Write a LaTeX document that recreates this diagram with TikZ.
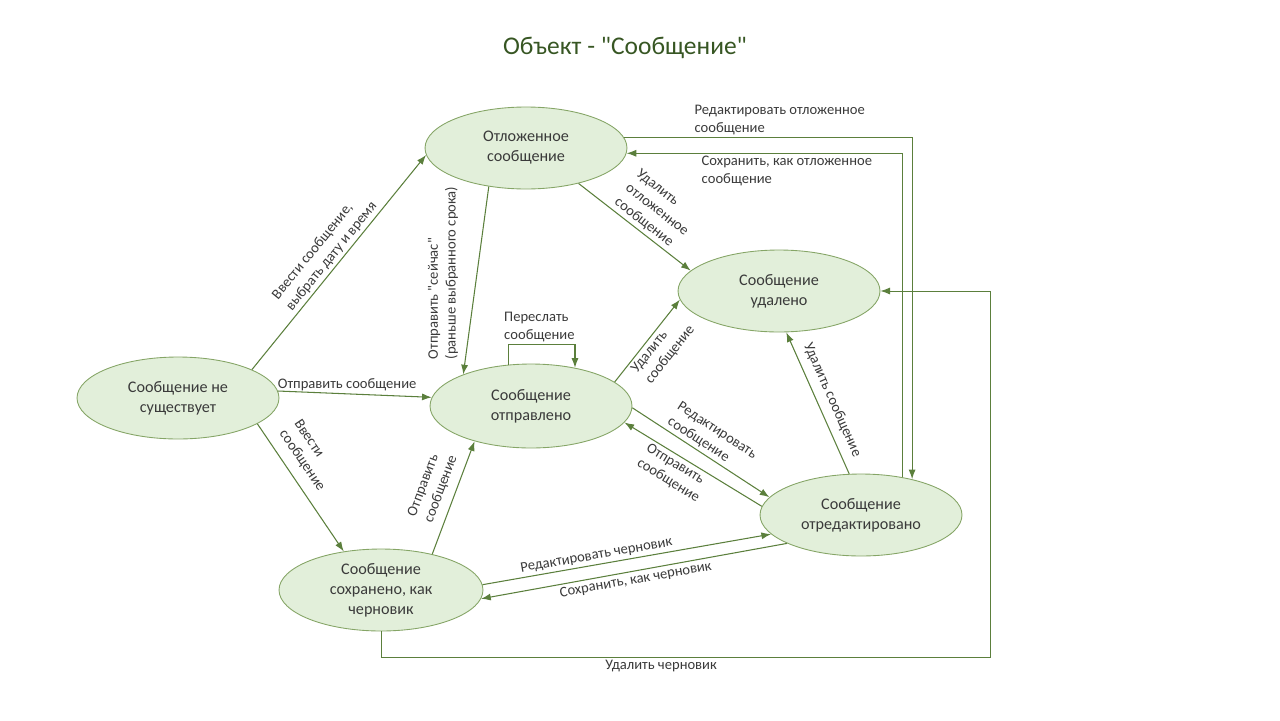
\documentclass[tikz,border=0pt]{standalone}
\usepackage{fontspec}
\setmainfont{Carlito}[Ligatures=TeXOff]
\usepackage{xcolor}
\usepackage{tikz}
\usetikzlibrary{arrows.meta}
\usetikzlibrary{shapes.geometric}
\usetikzlibrary{calc}

\definecolor{ovalfill}{HTML}{E2EFDA}
\definecolor{ovalline}{HTML}{85A566}
\definecolor{arrowgreen}{HTML}{5B7F3C}
\definecolor{textgray}{HTML}{3A3A3A}
\definecolor{titlegreen}{HTML}{375623}

\begin{document}
\begin{tikzpicture}[x=0.02cm,y=-0.02cm,>={Latex[length=5.5pt,width=4pt]}]
			\tikzstyle{state}=[ellipse,draw=ovalline,fill=ovalfill,line width=0.5pt,minimum width=4.04cm,minimum height=1.64cm,inner sep=0pt,align=center,text=textgray,font=\fontsize{9.2}{11.3}\selectfont]
			\tikzstyle{lbl}=[draw=none,fill=none,align=left,text=textgray,inner sep=1.5pt,font=\fontsize{8.3}{10.2}\selectfont]
			
			\useasboundingbox (0,0) rectangle (1280,720);
			\node (title) at (625,48) [text=titlegreen,font=\fontsize{14.5}{16}\selectfont] {Объект - "Сообщение"};
			
			\node (otl) at (526,148) [state] {Отложенное\\сообщение};
			\node (udal) at (779,291) [state] {Сообщение\\удалено};
			\node (nesush) at (178,398) [state] {Сообщение не\\существует};
			\node (otpr) at (531,406) [state,minimum height=1.68cm] {Сообщение\\отправлено};
			\node (otred) at (861,515) [state] {Сообщение\\отредактировано};
			\node (chern) at (381,590) [state,minimum width=4.08cm] {Сообщение\\сохранено, как\\черновик};
			\coordinate (corner) at (990,657);
			
			\path[->,line width=0.6pt,color=arrowgreen]
			(nesush.21) edge node[lbl,sloped,above,pos=0.5] {Ввести сообщение,\\выбрать дату и время} (otl.184)
			(nesush.4) edge node[lbl,above,pos=0.45] {Отправить сообщение} (otpr.175)
			(nesush.-18) edge node[lbl,sloped,above=4pt,pos=0.36] {Ввести\\сообщение} (chern.134)
			(otl.226) edge node[lbl,rotate=90,above,pos=0.46,yshift=9pt] {Отправить "сейчас"\\(раньше выбранного срока)} (otpr.155)
			(otl.-34) edge node[lbl,sloped,above,pos=0.55] {Удалить\\отложенное\\сообщение} (udal.167);
			
			\path[->,line width=0.6pt,color=arrowgreen]
			(otpr.16) edge node[lbl,sloped,below,pos=0.53] {Удалить\\сообщение} (udal.185)
			(otpr.-1) edge node[lbl,sloped,above,pos=0.51] {Редактировать\\сообщение} (otred.169)
			(otred.175) edge node[lbl,sloped,below,pos=0.58] {Отправить\\сообщение} (otpr.-10)
			(chern.35) edge node[lbl,sloped,above=3pt,pos=0.53] {Отправить\\сообщение} (otpr.212)
			(chern.3) edge node[lbl,sloped,above,pos=0.4] {Редактировать черновик} (otred.192)
			(otred.201) edge node[lbl,sloped,below,pos=0.5] {Сохранить, как черновик} (chern.-5)
			(otred.106) edge node[lbl,sloped,above=3pt,pos=0.48] {Удалить сообщение} (udal.-80);
			
			% self loop and routed lines
			\draw[->,line width=0.6pt,color=arrowgreen] (otpr.119) -- ++(0,-20) node[lbl,above right,xshift=-4pt] {Переслать\\сообщение} -| (otpr.41);
			\draw[->,line width=0.6pt,color=arrowgreen] (otl.6) -| node[lbl,above,pos=0.27] {Редактировать отложенное\\сообщение} (otred.35);
			\draw[->,line width=0.6pt,color=arrowgreen] (otred.42) |- node[lbl,below,pos=0.71] {Сохранить, как отложенное\\сообщение} (otl.-3);
			\draw[->,line width=0.5pt,color=arrowgreen] (chern.south) |- node[lbl,below,pos=0.73] {Удалить черновик} (corner) |- (udal.east);
		\end{tikzpicture}
\end{document}
